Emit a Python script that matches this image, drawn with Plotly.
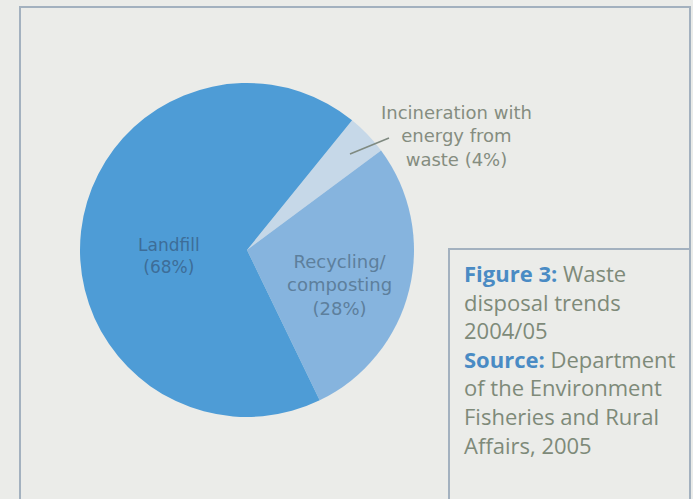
import plotly.graph_objects as go

W, H = 693, 499

# Data
categories = ["Incineration with energy from waste", "Recycling/composting", "Landfill"]
values = [4, 28, 68]
slice_colors = ["#c6d8e8", "#86b4de", "#4e9cd6"]

label_landfill = ["Landfill", "(68%)"]
label_recycling = ["Recycling/", "composting", "(28%)"]
label_incineration = ["Incineration with", "energy from", "waste (4%)"]
caption_lines = [
    ("Figure 3:", " Waste"),
    ("", "disposal trends"),
    ("", "2004/05"),
    ("Source:", " Department"),
    ("", "of the Environment"),
    ("", "Fisheries and Rural"),
    ("", "Affairs, 2005"),
]

def px(x):
    return x / W

def py(y):
    return 1 - y / H

cx, cy, r = 247, 250, 167

fig = go.Figure(go.Pie(
    labels=categories,
    values=values,
    sort=False,
    direction="clockwise",
    rotation=39,
    marker=dict(colors=slice_colors, line=dict(width=0)),
    textinfo="none",
    hoverinfo="label+percent",
    showlegend=False,
    domain=dict(x=[px(cx - r), px(cx + r)], y=[py(cy + r), py(cy - r)]),
))

bg = "#ebece9"
frame = "#a3b1bf"
shapes = [
    dict(type="rect", xref="paper", yref="paper", x0=px(20), x1=px(690), y0=py(520), y1=py(7),
         line=dict(color=frame, width=2), fillcolor="rgba(0,0,0,0)", layer="below"),
    dict(type="rect", xref="paper", yref="paper", x0=px(449), x1=px(690), y0=py(520), y1=py(249),
         line=dict(color=frame, width=2), fillcolor="rgba(0,0,0,0)", layer="above"),
    dict(type="line", xref="paper", yref="paper", x0=px(350), y0=py(154), x1=px(389), y1=py(138),
         line=dict(color="#7f8a80", width=1.5)),
]

annotations = []
label_font = "DejaVu Sans, sans-serif"

def add_block(lines, x, yc, size, color):
    annotations.append(dict(
        x=px(x), y=py(yc), xref="paper", yref="paper",
        text="<br>".join(lines), showarrow=False, xanchor="center", yanchor="middle",
        align="center", font=dict(family=label_font, size=size, color=color)))

add_block(label_landfill, 169, 256, 17, "#3d6d98")
add_block(label_recycling, 339, 285, 18, "#5d7f9c")
add_block(label_incineration, 456, 136, 18, "#858d80")

cap_text = "<br>".join(
    (f"<b><span style='color:#4a8bc4'>{b}</span></b>" if b else "") + rest
    for b, rest in caption_lines
)
annotations.append(dict(
    x=px(462), y=py(359), xref="paper", yref="paper",
    text=cap_text, showarrow=False, xanchor="left", yanchor="middle", align="left",
    font=dict(family="Open Sans, Noto Sans, sans-serif", size=22, color="#7e8a79")))

fig.update_layout(
    width=W, height=H,
    margin=dict(l=0, r=0, t=0, b=0),
    paper_bgcolor=bg, plot_bgcolor=bg,
    shapes=shapes, annotations=annotations,
)

fig.write_html("out.html", config={"displayModeBar": False},
               post_script="document.body.style.margin='0';")
